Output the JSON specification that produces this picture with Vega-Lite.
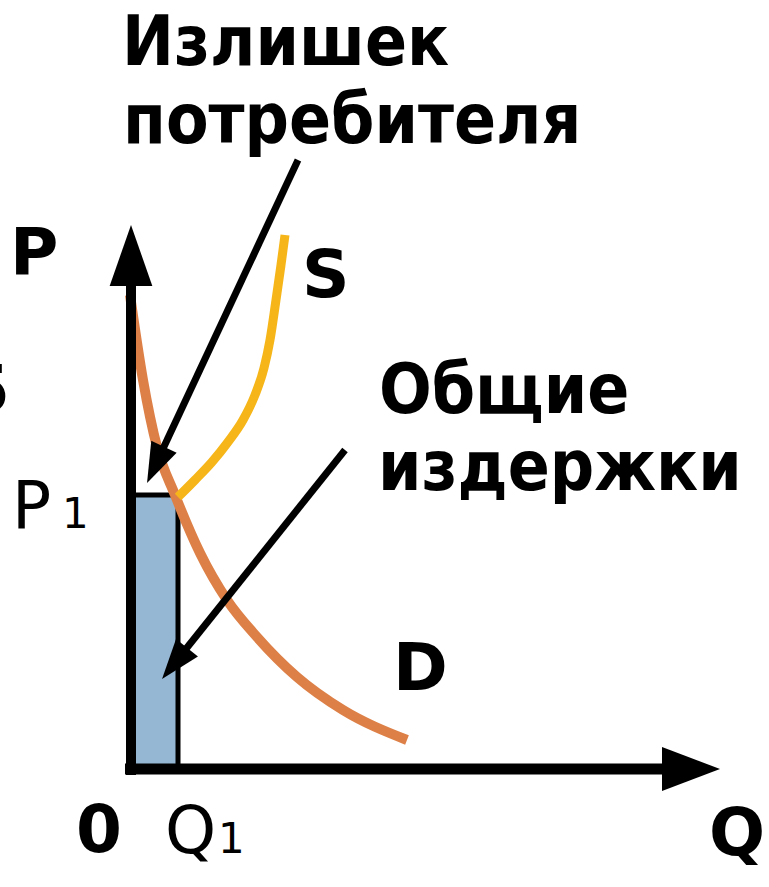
{
  "$schema": "https://vega.github.io/schema/vega-lite/v6.json",
  "width": 769,
  "height": 887,
  "autosize": {"type": "none"},
  "padding": 0,
  "background": "white",
  "config": {"view": {"stroke": null}},
  "encoding": {
    "x": {"field": "q", "type": "quantitative", "scale": {"domain": [-131, 638], "nice": false, "zero": false}, "axis": null},
    "y": {"field": "p", "type": "quantitative", "scale": {"domain": [-118, 769], "nice": false, "zero": false}, "axis": null}
  },
  "layer": [
    {
      "data": {"values": [{"q": -1, "p": -1, "q2": 47, "p2": 274}]},
      "mark": {"type": "rect", "fill": "#95b7d4", "stroke": "black", "strokeWidth": 5},
      "encoding": {"x2": {"field": "q2"}, "y2": {"field": "p2"}}
    },
    {
      "data": {"values": [
        {"q": -1, "p": 474}, {"q": 12, "p": 389}, {"q": 26, "p": 322}, {"q": 44, "p": 274},
        {"q": 69, "p": 216}, {"q": 96, "p": 169}, {"q": 126, "p": 132}, {"q": 166, "p": 92},
        {"q": 212, "p": 59}, {"q": 276, "p": 29}
      ]},
      "mark": {"type": "line", "color": "#dd8047", "strokeWidth": 10, "interpolate": "monotone"},
      "encoding": {}
    },
    {
      "data": {"values": [
        {"q": 47, "p": 272}, {"q": 64, "p": 289}, {"q": 81, "p": 307}, {"q": 97, "p": 327},
        {"q": 112, "p": 349}, {"q": 124, "p": 374}, {"q": 133, "p": 401}, {"q": 139, "p": 429},
        {"q": 145, "p": 469}, {"q": 150, "p": 504}, {"q": 154, "p": 534}
      ]},
      "mark": {"type": "line", "color": "#f6b61a", "strokeWidth": 9, "interpolate": "monotone"},
      "encoding": {}
    },
    {
      "data": {"values": [{"q": 0, "p": -6, "q2": 0, "p2": 485}]},
      "mark": {"type": "rule", "color": "black", "strokeWidth": 10},
      "encoding": {"x2": {"field": "q2"}, "y2": {"field": "p2"}}
    },
    {
      "data": {"values": [{"q": -6, "p": 0, "q2": 535, "p2": 0}]},
      "mark": {"type": "rule", "color": "black", "strokeWidth": 11},
      "encoding": {"x2": {"field": "q2"}, "y2": {"field": "p2"}}
    },
    {
      "data": {"values": [{"q": 0, "p": 513.5}]},
      "mark": {"type": "point", "shape": "M0,-1L0.7,1L-0.7,1Z", "size": 3721, "filled": true, "color": "black", "opacity": 1, "strokeWidth": 0}
    },
    {
      "data": {"values": [{"q": 560, "p": 0}]},
      "mark": {"type": "point", "shape": "M0,-1L0.76,1L-0.76,1Z", "size": 3364, "angle": 90, "filled": true, "color": "black", "opacity": 1, "strokeWidth": 0}
    },
    {
      "data": {"values": [{"q": 167, "p": 609, "q2": 32.1, "p2": 320.4}, {"q": 214, "p": 319, "q2": 54.7, "p2": 119.7}]},
      "mark": {"type": "rule", "color": "black", "strokeWidth": 7},
      "encoding": {"x2": {"field": "q2"}, "y2": {"field": "p2"}}
    },
    {
      "data": {"values": [{"q": 24.5, "p": 304.1}]},
      "mark": {"type": "point", "shape": "M0,-1L0.7,1L-0.7,1Z", "size": 1600, "angle": 205, "filled": true, "color": "black", "opacity": 1, "strokeWidth": 0}
    },
    {
      "data": {"values": [{"q": 43.5, "p": 105.6}]},
      "mark": {"type": "point", "shape": "M0,-1L0.7,1L-0.7,1Z", "size": 1600, "angle": 218.6, "filled": true, "color": "black", "opacity": 1, "strokeWidth": 0}
    },
    {
      "data": {"values": [
        {"label": "Излишек", "q": -9, "p": 704},
        {"label": "потребителя", "q": -8, "p": 626},
        {"label": "Общие", "q": 248, "p": 356},
        {"label": "издержки", "q": 247, "p": 279}
      ]},
      "mark": {"type": "text", "font": "DejaVu Sans Condensed, DejaVu Sans", "fontWeight": "bold", "fontSize": 69, "align": "left", "baseline": "alphabetic", "color": "black"},
      "encoding": {"text": {"field": "label"}}
    },
    {
      "data": {"values": [
        {"label": "P", "q": -121, "p": 494},
        {"label": "S", "q": 171, "p": 472},
        {"label": "D", "q": 262, "p": 79},
        {"label": "0", "q": -55, "p": -83},
        {"label": "Q", "q": 578, "p": -86},
        {"label": "5", "q": -167, "p": 357}
      ]},
      "mark": {"type": "text", "font": "DejaVu Sans", "fontWeight": "bold", "fontSize": 66, "align": "left", "baseline": "alphabetic", "color": "black"},
      "encoding": {"text": {"field": "label"}}
    },
    {
      "data": {"values": [
        {"label": "P", "q": -119, "p": 241},
        {"label": "Q", "q": 34, "p": -84}
      ]},
      "mark": {"type": "text", "font": "DejaVu Sans", "fontSize": 65, "align": "left", "baseline": "alphabetic", "color": "black"},
      "encoding": {"text": {"field": "label"}}
    },
    {
      "data": {"values": [
        {"label": "1", "q": -69, "p": 241},
        {"label": "1", "q": 87, "p": -84}
      ]},
      "mark": {"type": "text", "font": "DejaVu Sans", "fontSize": 42, "align": "left", "baseline": "alphabetic", "color": "black"},
      "encoding": {"text": {"field": "label"}}
    }
  ]
}
